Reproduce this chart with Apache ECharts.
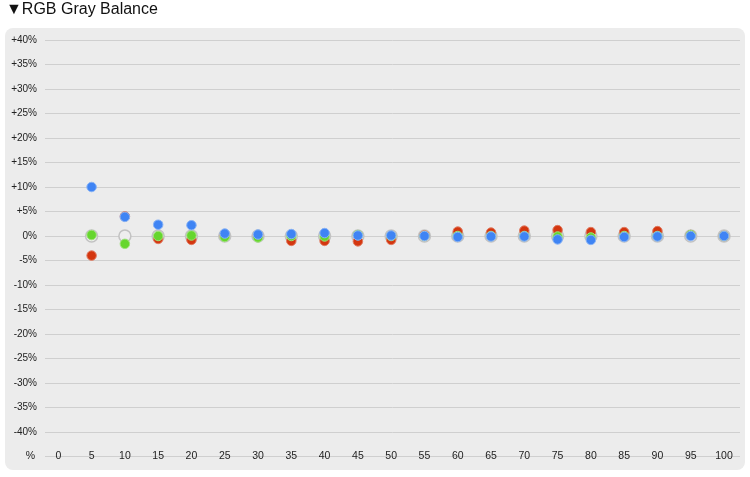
<!DOCTYPE html>
<html><head><meta charset="utf-8">
<script src="https://cdn.jsdelivr.net/npm/echarts@6/dist/echarts.min.js"></script>
<style>html,body{margin:0;padding:0;background:#fff}#c{width:750px;height:477px}</style>
</head><body><div id="c"></div>
<script>
const levels = [5,10,15,20,25,30,35,40,45,50,55,60,65,70,75,80,85,90,95,100];
const xTicks = [0,5,10,15,20,25,30,35,40,45,50,55,60,65,70,75,80,85,90,95,100];
const redVals   = [-4.0, 4.0,-0.6,-0.8, 0.0, 0.0,-1.0,-1.0,-1.1,-0.8, 0.1, 0.9, 0.7, 1.1, 1.2, 0.8, 0.8, 1.0, 0.2, 0.0];
const greenVals = [ 0.2,-1.6, 0.0, 0.1,-0.2,-0.3, 0.0,-0.1, 0.2, 0.0, 0.0, 0.0, 0.0, 0.0,-0.1,-0.3, 0.0, 0.0, 0.2, 0.0];
const blueVals  = [10.0, 3.9, 2.3, 2.2, 0.5, 0.3, 0.4, 0.6, 0.1, 0.1, 0.0,-0.2,-0.1,-0.1,-0.7,-0.8,-0.2,-0.1, 0.0, 0.0];
const grayVals  = levels.map(() => 0);
const pair = v => v.map((y,i)=>[levels[i],y]);
const ch = echarts.init(document.getElementById('c'));
const sc = (name,data,color,border) => ({name,type:'scatter',data:pair(data),symbolSize:9.5,
  itemStyle:{color,borderColor:border,borderWidth:1,opacity:1},z:3});
ch.setOption({
  animation:false,
  graphic:[
    {type:'rect',shape:{x:5,y:28,width:740,height:442,r:8},style:{fill:'#ececec'},z:-10},
    {type:'text',left:6,top:2,style:{text:'▼RGB Gray Balance',font:'16px "Liberation Sans", Arial, sans-serif',fill:'#111'}}
  ],
  grid:{left:45,right:10,top:40,bottom:20.5},
  xAxis:{type:'value',min:-2,max:102.4,name:'%',nameLocation:'start',nameGap:10,
    nameTextStyle:{color:'#222',fontSize:10.5,verticalAlign:'middle'},
    axisLine:{show:false,onZero:false},axisTick:{show:false},splitLine:{show:false},
    axisLabel:{customValues:xTicks,margin:0,verticalAlign:'middle',color:'#222',fontSize:10.5}},
  yAxis:{type:'value',min:-45,max:40,interval:5,
    axisLine:{show:false},axisTick:{show:false},
    splitLine:{lineStyle:{color:'#cfcfcf',width:1}},
    axisLabel:{color:'#222',fontSize:10,margin:8,
      formatter:v=>v===-45?'':(v>0?'+'+v:v)+'%'}},
  series:[
    {name:'Gray',type:'scatter',data:pair(grayVals),symbolSize:12,
      itemStyle:{color:'#eeeeee',borderColor:'#c2c2c2',borderWidth:1.5,opacity:1},z:2},
    sc('Red',redVals,'#d4360f','#e07a60'),
    sc('Green',greenVals,'#66d62e','#9ee27a'),
    sc('Blue',blueVals,'#3f84f4','#86b2f6')
  ]
});
</script></body></html>
